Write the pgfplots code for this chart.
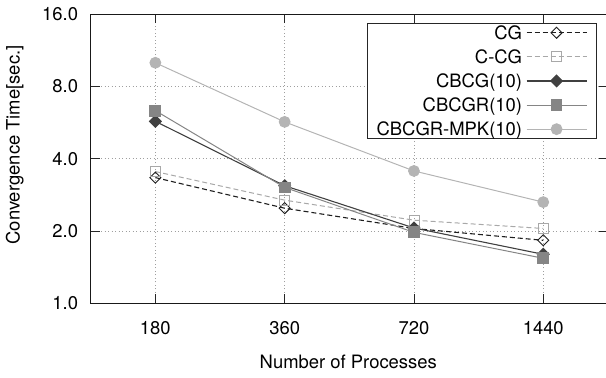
\documentclass[border=0pt]{standalone}
\usepackage{fontspec}
\setmainfont{TeX Gyre Heros}
\usepackage{pgfplots}
\pgfplotsset{compat=1.18}
\definecolor{cg}{HTML}{1E1E1E}
\definecolor{ccg}{HTML}{A8A8A8}
\definecolor{cbcg}{HTML}{404040}
\definecolor{cbcgr}{HTML}{858585}
\definecolor{mpk}{HTML}{B4B4B4}
\begin{document}
\fontsize{18.5}{22}\selectfont
\begin{tikzpicture}
\begin{axis}[
  scale only axis, width=517.2bp, height=289bp,
  at={(0,0)}, anchor=south west,
  xmin=-0.5, xmax=3.5,
  ymode=log, log basis y=2, ymin=1, ymax=16,
  xtick={0,1,2,3}, xticklabels={180,360,720,1440},
  ytick={1,2,4,8,16}, yticklabels={1.0,2.0,4.0,8.0,16.0},
  tick align=inside, major tick length=9bp, minor tick num=0,
  grid=major, grid style={dash pattern=on 1bp off 2.5bp, gray!75, line width=0.6bp},
  axis line style={line width=1.1bp, black!90},
  every tick/.style={black!85, line width=0.9bp},
  yticklabel style={anchor=east, inner sep=0pt, xshift=-12.5bp},
  xticklabel style={anchor=north, inner sep=0pt, yshift=-18.4bp},
  xlabel={Number of Processes}, ylabel={Convergence Time[sec.]},
  xlabel style={at={(axis description cs:0.5,-0.202)}, anchor=center, inner sep=0pt, xshift=-1bp},
  ylabel style={at={(axis description cs:-0.147,0.548)}, anchor=center, rotate=0, inner sep=0pt},
  legend cell align=right, legend plot pos=right,
  legend image code/.code={\draw[mark repeat=2,mark phase=2,#1] plot coordinates {(0bp,0bp) (30bp,0bp) (60bp,0bp)};},
  legend style={at={(axis description cs:0.9793,0.970)}, anchor=north east,
    draw=black!85, line width=1.1bp, fill=white,
    inner xsep=9.5bp, inner ysep=3bp, row sep=11.6bp, column sep=4bp,
    nodes={inner sep=0pt, text height=12.5bp, text depth=0pt}},
]
\addplot[cg, line width=1.1bp, dash pattern=on 5bp off 3bp, mark=square, mark size=3.9bp,
  mark options={solid, rotate=45, fill=white, line width=0.9bp}]
  coordinates {(0,3.34) (1,2.49) (2,2.05) (3,1.83)};
\addlegendentry{CG}
\addplot[ccg, line width=1bp, dash pattern=on 5bp off 3bp, mark=square, mark size=5bp,
  mark options={solid, fill=white, line width=0.9bp}]
  coordinates {(0,3.54) (1,2.69) (2,2.22) (3,2.05)};
\addlegendentry{C-CG}
\addplot[cbcg, line width=1.1bp, mark=square*, mark size=4.1bp,
  mark options={solid, rotate=45}]
  coordinates {(0,5.73) (1,3.09) (2,2.06) (3,1.60)};
\addlegendentry{CBCG(10)}
\addplot[cbcgr, line width=1bp, mark=square*, mark size=5.4bp,
  mark options={solid}]
  coordinates {(0,6.35) (1,3.04) (2,1.975) (3,1.54)};
\addlegendentry{CBCGR(10)}
\addplot[mpk, line width=1bp, mark=*, mark size=5.4bp,
  mark options={solid}]
  coordinates {(0,10.05) (1,5.70) (2,3.56) (3,2.64)};
\addlegendentry{CBCGR-MPK(10)}
\end{axis}
\pgfresetboundingbox
\path[use as bounding box] (-90.7bp,-74.7bp) rectangle (515.3bp,303.3bp);
\end{tikzpicture}
\end{document}
